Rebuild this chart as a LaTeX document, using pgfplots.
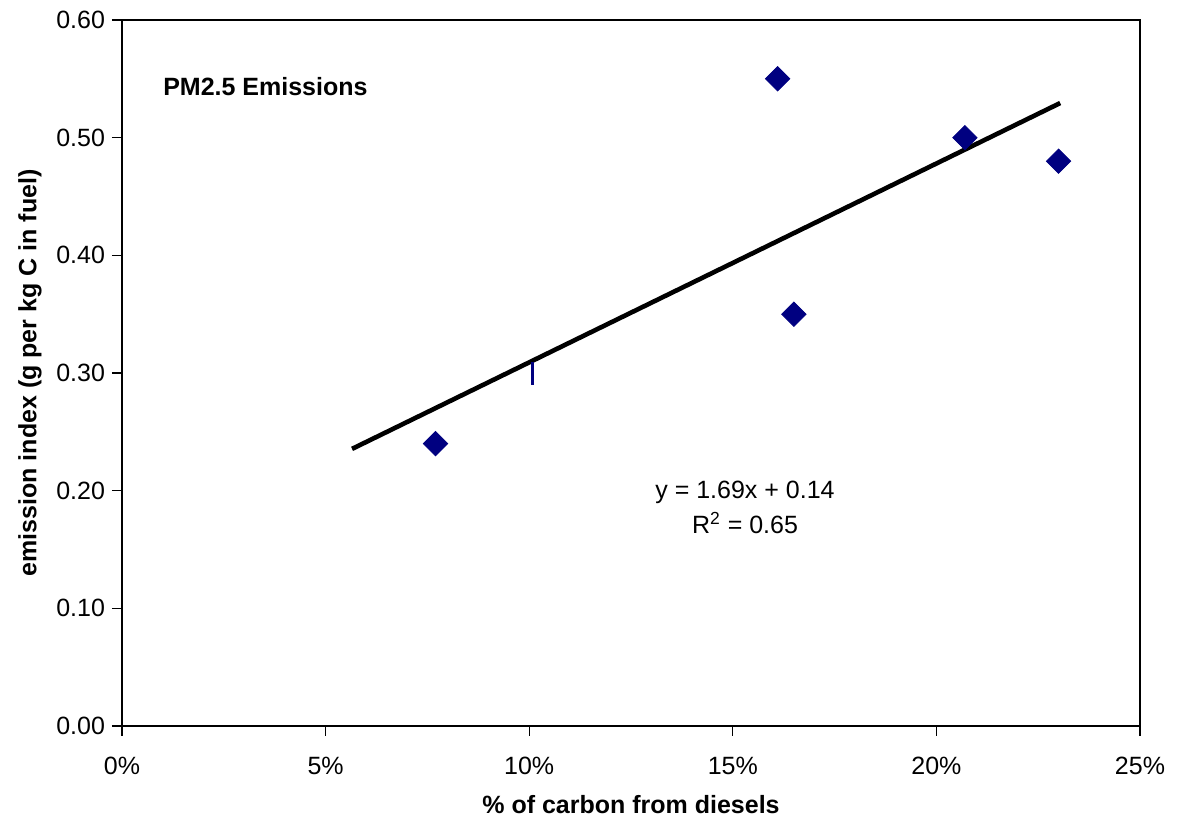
\documentclass[border=0pt]{standalone}
\usepackage{pgfplots}
\pgfplotsset{compat=1.18}
\usepackage{fontspec}
\setmainfont{Liberation Sans}
\definecolor{navy}{RGB}{0,0,128}
\begin{document}
\begin{tikzpicture}
\useasboundingbox (-61pt,-48.5pt) rectangle (529pt,363pt);
\begin{axis}[
  scale only axis,
  width=509pt, height=353pt,
  xmin=0, xmax=0.25, ymin=0, ymax=0.6,
  xtick={0,0.05,0.10,0.15,0.20,0.25},
  xticklabels={0\%,5\%,10\%,15\%,20\%,25\%},
  ytick={0,0.1,0.2,0.3,0.4,0.5,0.6},
  yticklabel style={/pgf/number format/.cd,fixed,fixed zerofill,precision=2},
  xticklabel style={yshift=-7pt},
  /pgf/number format/assume math mode=true,
  tick align=outside, tick pos=left,
  major tick length=5pt,
  axis line style={black, line width=0.6pt},
  every tick/.style={black, line width=0.6pt},
  tick label style={font=\fontsize{12.5}{15}\selectfont},
  label style={font=\fontsize{12.5}{15}\selectfont\bfseries},
  xlabel={\% of carbon from diesels},
  ylabel={emission index (g per kg C in fuel)},
  xlabel style={at={(axis description cs:0.5,-0.1119)}, anchor=center},
  ylabel style={at={(axis description cs:-0.0904,0.5)}, anchor=center},
  clip=false,
]
% trend line
\addplot[black, line width=2.3pt] coordinates {(0.0565,0.2355)(0.2304,0.5294)};
% small blue bar
\addplot[navy, line width=1.4pt] coordinates {(0.1009,0.290)(0.1009,0.309)};
% data points
\addplot[only marks, mark=square*, mark size=4.3pt, mark options={rotate=45, fill=navy, draw=navy}]
  coordinates {(0.077,0.24)(0.161,0.55)(0.165,0.35)(0.207,0.50)(0.230,0.48)};
\node[anchor=west, font=\fontsize{12.5}{15}\selectfont\bfseries] at (axis cs:0.0084,0.543) {PM2.5 Emissions};
\node[align=center, font=\fontsize{12.5}{17.5}\selectfont] at (axis cs:0.153,0.186) {y = 1.69x + 0.14\\R\textsuperscript{2} = 0.65};
\end{axis}
\end{tikzpicture}
\end{document}
